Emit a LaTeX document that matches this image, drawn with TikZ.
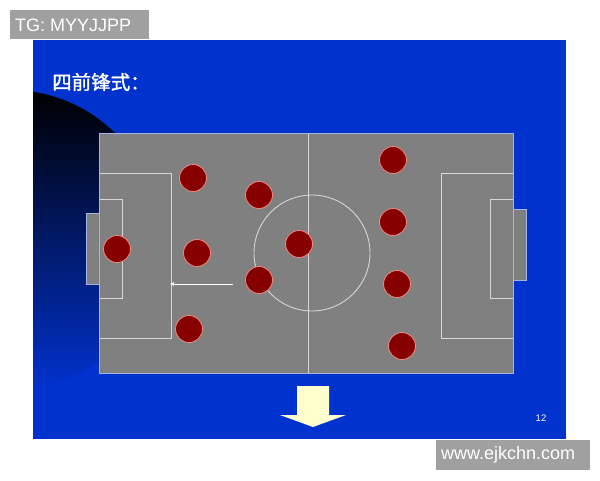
\documentclass[tikz,border=0pt]{standalone}
\usepackage{fontspec}
\setmainfont{Liberation Sans}
\newfontfamily\cjk[AutoFakeBold=1.5]{Noto Sans CJK SC}
\usetikzlibrary{arrows.meta}
\definecolor{slideblue}{RGB}{0,50,205}
\definecolor{fieldgray}{RGB}{128,128,128}
\definecolor{fieldedge}{RGB}{165,180,225}
\definecolor{linegray}{RGB}{215,215,215}
\definecolor{pred}{RGB}{135,0,0}
\definecolor{pedge}{RGB}{240,140,130}
\definecolor{wmgray}{RGB}{160,160,160}
\definecolor{paleyellow}{RGB}{255,255,205}
\tikzset{
  player/.style={circle, fill=pred, draw=pedge, line width=0.8pt, minimum size=27pt, inner sep=0pt},
  pitchline/.style={draw=linegray, line width=0.9pt},
  edgeline/.style={draw=fieldedge, line width=1pt},
  wmbox/.style={fill=wmgray, text=white, font=\fontsize{18}{20}\selectfont, inner sep=0pt, anchor=center},
}
\begin{document}
\begin{tikzpicture}[x=1pt,y=-1pt]
\useasboundingbox (0,0) rectangle (600,480);
\fill[white] (0,0) rectangle (600,480);
% slide
\fill[slideblue] (33,40) rectangle (566,439);
\begin{scope}
  \clip (33,40) rectangle (566,439);
  \shade[top color=black, bottom color=slideblue] (10,240) circle (150);
\end{scope}
% title
\node[anchor=west, text=white, font=\cjk\bfseries\fontsize{19.5}{21}\selectfont, inner sep=0pt] (title) at (52,82) {四前锋式：};
% goals
\fill[fieldgray] (86,213) rectangle (99,284);
\draw[edgeline] (99,213) -- (86,213) -- (86,284) -- (99,284);
\fill[fieldgray] (513,209) rectangle (526,280);
\draw[edgeline] (513,209) -- (526,209) -- (526,280) -- (513,280);
% field
\fill[fieldgray] (99,133) rectangle (513,373);
% markings
\draw[pitchline] (99,173) rectangle (171,338);
\draw[pitchline] (99,199) rectangle (122,298);
\draw[pitchline] (441,173) rectangle (513,338);
\draw[pitchline] (490,199) rectangle (513,298);
\draw[pitchline] (308.5,133) -- (308.5,373);
\draw[pitchline] (312,253) circle (58);
\draw[edgeline] (99,133) rectangle (513,373);
% players
\node[player] (p1) at (193,178) {};
\node[player] (p2) at (259,195) {};
\node[player] (p3) at (117,249) {};
\node[player] (p4) at (197,253) {};
\node[player] (p5) at (299,244) {};
\node[player] (p6) at (259,280) {};
\node[player] (p7) at (189,329) {};
\node[player] (p8) at (393,160) {};
\node[player] (p9) at (393,222) {};
\node[player] (p10) at (397,284) {};
\node[player] (p11) at (402,346) {};
% small arrow
\coordinate (as) at (233,284);
\coordinate (ae) at (170,284);
\draw[white, line width=0.8pt, -{Latex[length=4pt,width=4pt]}] (as) -- (ae);
% big down arrow
\fill[paleyellow] (297,386) -- (329,386) -- (329,415) -- (346,415) -- (313,427) -- (280,415) -- (297,415) -- cycle;
% page number
\node[text=white, font=\fontsize{9.5}{10}\selectfont, inner sep=0pt] (pg) at (541,418) {12};
% watermarks
\fill[wmgray] (10,10) rectangle (149,39);
\node[wmbox, anchor=west] (wm1) at (15,25) {TG: MYYJJPP};
\fill[wmgray] (436,440) rectangle (590,470);
\node[wmbox, anchor=west] (wm2) at (441,455) {www.ejkchn.com};
\end{tikzpicture}
\end{document}
